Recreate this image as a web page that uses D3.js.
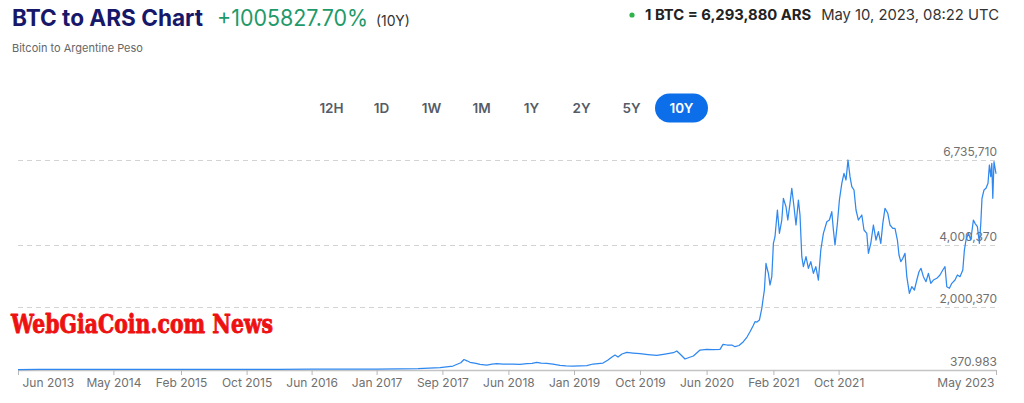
<!DOCTYPE html>
<html>
<head>
<meta charset="utf-8">
<script src="https://cdn.jsdelivr.net/npm/d3@7"></script>
<style>
  html, body { margin: 0; padding: 0; background: #ffffff; }
  svg { display: block; font-family: Inter, "Noto Sans", sans-serif; }
</style>
</head>
<body>
<svg id="chart" width="1024" height="403"></svg>
<script>
// ---------- data ----------
const titleText = "BTC to ARS Chart";
const changeText = "+1005827.70%";
const periodText = "(10Y)";
const subtitleText = "Bitcoin to Argentine Peso";
const priceText = "1 BTC = 6,293,880 ARS";
const timeText = "May 10, 2023, 08:22 UTC";
const rangeButtons = ["12H", "1D", "1W", "1M", "1Y", "2Y", "5Y", "10Y"];
const activeRange = "10Y";
const watermarkText = "WebGiaCoin.com News";

// y reference levels (ARS)
const yLevels = [6735710, 4000370, 2000370, 370.983];
const yLevelLabels = ["6,735,710", "4,000,370", "2,000,370", "370.983"];

// x axis: sample index along the series and the label shown there
const xTickSamples = [0, 47.7, 81.5, 114.3, 146.8, 179.3, 212.2, 245.2, 278, 311, 344.3, 377.7, 410.3, 489];
const xTickLabels = ["Jun 2013", "May 2014", "Feb 2015", "Oct 2015", "Jun 2016", "Jan 2017", "Sep 2017",
                     "Jun 2018", "Jan 2019", "Oct 2019", "Jun 2020", "Feb 2021", "Oct 2021", "May 2023"];

// BTC price in ARS: [sample index, value]
const btcArs = [
  [0, 370.983], [10, 600], [20, 6000], [30, 5000], [48, 4500], [65, 4000], [81, 2300], [98, 2200],
  [114, 2800], [130, 5000], [147, 9000], [163, 9500], [179, 15000], [190, 18000], [200, 28000],
  [211, 58000], [217.5, 112500], [221.4, 218600], [223, 321500], [224.5, 280000], [226, 231500],
  [229, 200000], [231, 167200], [234.4, 144700], [237, 170000], [239.4, 186500], [242.5, 175000],
  [247.5, 176800], [251, 165000], [254.4, 186500], [257, 200000], [259.4, 231500], [261.5, 205000],
  [264.4, 199300], [267.5, 170000], [271, 135000], [274, 118000], [277.5, 112500], [281, 116000],
  [284.4, 122200], [287.5, 176800], [292.5, 209000], [295, 305000], [297, 400000], [298.5, 466000],
  [300, 400000], [302, 498000], [304.4, 553000], [307.5, 530000], [311, 508000], [315, 482000],
  [319.4, 456000], [323.5, 498000], [327.7, 540000], [329.4, 595000], [331, 498000], [333.5, 337500],
  [335.5, 386000], [337.7, 434000], [341, 627000], [344.4, 649000], [347.5, 643000], [351, 649000],
  [352.5, 810000], [354.5, 788000], [356.9, 788000], [358.5, 733000], [360.5, 772000], [362.7, 894000],
  [364.5, 1045000], [366, 1215000], [367.5, 1398000], [368.5, 1537000], [369.5, 1527000], [370.7, 1591000],
  [371.9, 1968000], [372.7, 2340000], [373.2, 2556000], [374, 3414000], [374.5, 3263000], [375.2, 3093000],
  [376, 2717000], [376.9, 2984000], [377.7, 4057000], [378.5, 4270000], [379.7, 5128000], [380.7, 4379000],
  [381.9, 4806000], [382.7, 5504000], [384, 5234000], [384.9, 4806000], [386, 5343000], [386.9, 5826000],
  [388, 5234000], [389, 4646000], [390.2, 5449000], [391, 4967000], [391.9, 3627000], [392.7, 3305000],
  [394, 3627000], [395.2, 3254000], [396.4, 3466000], [397.7, 3093000], [398.9, 3305000], [400.2, 2877000],
  [401.4, 3842000], [402.7, 4379000], [404.4, 4752000], [405.7, 4806000], [406.9, 5073000], [407.7, 4485000],
  [408.5, 4003000], [409.7, 4700000], [410.7, 5449000], [411.9, 5986000], [413, 6308000], [414, 6092000],
  [415, 6735710], [416, 6199000], [416.9, 5877000], [418, 5771000], [419, 5128000], [420.2, 4806000],
  [421.9, 4967000], [423, 4485000], [424.4, 4379000], [425.2, 3736000], [426.4, 4057000], [427.7, 4646000],
  [429, 4163000], [430.2, 4430000], [431.4, 4057000], [432.4, 4700000], [433.5, 5183000], [434.9, 5022000],
  [436, 4646000], [437.4, 4540000], [438.5, 4540000], [439.7, 4163000], [440.5, 3681000], [441.4, 3466000],
  [442.4, 3575000], [443.5, 3736000], [444.4, 2984000], [445.7, 2450000], [446.9, 2662000], [448.2, 2556000],
  [449.4, 2877000], [450.5, 3144000], [451.5, 3254000], [452.7, 2984000], [454, 2823000], [455.2, 3093000],
  [456.4, 2771000], [457.7, 2877000], [459.4, 2932000], [461, 3038000], [462.4, 3199000], [463.5, 3305000],
  [464.4, 2662000], [465.7, 2611000], [466.9, 2771000], [468.5, 2877000], [469.7, 3038000], [471, 2984000],
  [472.4, 3199000], [473.2, 3842000], [474, 4163000], [475.2, 4379000], [476.4, 4163000], [477.7, 4806000],
  [478.5, 4700000], [479.7, 4591000], [480.7, 4057000], [481.4, 4700000], [482, 5504000], [483, 5771000],
  [484, 5826000], [485, 5986000], [485.7, 6575000], [486.4, 6199000], [486.9, 6629000], [487.4, 5504000],
  [488, 6680000], [488.7, 6414000], [489, 6293880]
];

// ---------- drawing ----------
const svg = d3.select("#chart");
const W = 1024, H = 403;
svg.append("rect").attr("width", W).attr("height", H).attr("fill", "#fff");

const x = d3.scaleLinear().domain([0, 489]).range([18, 996]);
const y = d3.scaleLinear().domain([370.983, 6735710]).range([369.5, 160]);

// Header
const head = svg.append("g");
head.append("text").attr("x", 12).attr("y", 26)
  .attr("font-size", 23).attr("font-weight", 700).attr("fill", "#17186a")
  .attr("textLength", 191).attr("lengthAdjust", "spacingAndGlyphs").text(titleText);
head.append("text").attr("x", 217).attr("y", 26)
  .attr("font-size", 22.5).attr("font-weight", 400).attr("fill", "#1e9a6a")
  .attr("textLength", 151).attr("lengthAdjust", "spacingAndGlyphs").text(changeText);
head.append("text").attr("x", 376).attr("y", 26)
  .attr("font-size", 14).attr("fill", "#333").text(periodText);
head.append("text").attr("x", 12).attr("y", 52)
  .attr("font-size", 11).attr("fill", "#666").text(subtitleText);

head.append("circle").attr("cx", 632).attr("cy", 15).attr("r", 2.6).attr("fill", "#2fb34a");
head.append("text").attr("x", 645).attr("y", 20)
  .attr("font-size", 14.8).attr("font-weight", 700).attr("fill", "#222").text(priceText);
head.append("text").attr("x", 999).attr("y", 20).attr("text-anchor", "end")
  .attr("font-size", 14.8).attr("fill", "#333").text(timeText);

// Range buttons
const btnX = d3.scalePoint().domain(rangeButtons).range([331.5, 681.5]);
const btns = svg.append("g").selectAll("g").data(rangeButtons).join("g")
  .attr("transform", d => `translate(${btnX(d)},108)`);
btns.filter(d => d === activeRange).append("rect")
  .attr("x", -26.5).attr("y", -14.5).attr("width", 53).attr("height", 29).attr("rx", 14.5)
  .attr("fill", "#0c6fe9");
btns.append("text").attr("text-anchor", "middle").attr("dy", "0.36em")
  .attr("font-size", 13.5).attr("font-weight", 600)
  .attr("fill", d => d === activeRange ? "#fff" : "#555c68").text(d => d);

// Grid lines (dashed)
const grid = svg.append("g");
grid.selectAll("line").data(yLevels.slice(0, 3)).join("line")
  .attr("x1", 18).attr("x2", 997)
  .attr("y1", d => Math.round(y(d)) + 0.5).attr("y2", d => Math.round(y(d)) + 0.5)
  .attr("stroke", "#d3d3d3").attr("stroke-width", 1).attr("stroke-dasharray", "5,4");

// Y labels
svg.append("g").selectAll("text").data(yLevels).join("text")
  .attr("x", 997).attr("y", d => y(d) - 4)
  .attr("text-anchor", "end").attr("font-size", 12).attr("fill", "#707070")
  .text((d, i) => yLevelLabels[i]);

// X axis
const xAxis = d3.axisBottom(x).tickValues(xTickSamples)
  .tickFormat((d, i) => xTickLabels[i]).tickSize(5).tickSizeOuter(0);
const gx = svg.append("g").attr("transform", "translate(0,370)").call(xAxis);
gx.select(".domain").attr("stroke", "#c4c4c4").attr("stroke-width", 1.3);
gx.selectAll(".tick line").attr("stroke", "#b8b8b8");
gx.selectAll(".tick text").attr("font-family", "Inter, 'Noto Sans', sans-serif")
  .attr("font-size", 12).attr("fill", "#707070").attr("y", 8).attr("dy", "0.71em");
gx.selectAll(".tick text").filter((d, i) => i === 0).attr("text-anchor", "start").attr("dx", 4);
gx.selectAll(".tick text").filter((d, i) => i === xTickSamples.length - 1).attr("text-anchor", "end").attr("dx", -2);

// Line
const line = d3.line().x(d => x(d[0])).y(d => y(d[1]));
svg.append("path").datum(btcArs).attr("d", line)
  .attr("fill", "none").attr("stroke", "#2f88ef").attr("stroke-width", 1.25)
  .attr("stroke-linejoin", "round");

// Watermark
svg.append("text").attr("x", 11).attr("y", 333)
  .attr("font-family", "'DejaVu Serif', serif").attr("font-weight", 700)
  .attr("font-size", 26).attr("fill", "#ee1111")
  .attr("stroke", "#ee1111").attr("stroke-width", 0.9).attr("stroke-linejoin", "round")
  .attr("textLength", 262).attr("lengthAdjust", "spacingAndGlyphs")
  .text(watermarkText);
</script>
</body>
</html>
